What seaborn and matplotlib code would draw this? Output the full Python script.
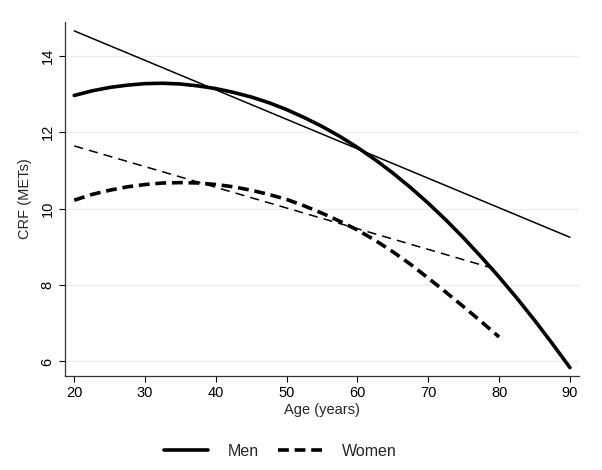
import matplotlib
matplotlib.use("Agg")
import matplotlib.pyplot as plt
from matplotlib.lines import Line2D
import seaborn as sns

# Data (fitted curves and linear fits)
men_age = [20, 22.5, 25, 27.5, 30, 32.5, 35, 37.5, 40, 42.5, 45, 47.5, 50,
           52.5, 55, 57.5, 60, 62.5, 65, 67.5, 70, 72.5, 75, 77.5, 80,
           82.5, 85, 87.5, 90]
men_fit = [12.96, 13.08, 13.17, 13.23, 13.27, 13.28, 13.26, 13.21, 13.14,
           13.04, 12.92, 12.77, 12.59, 12.38, 12.15, 11.89, 11.60, 11.28,
           10.93, 10.55, 10.14, 9.70, 9.23, 8.73, 8.21, 7.66, 7.08, 6.47, 5.84]
men_lin_age = [20, 90]
men_lin = [14.65, 9.25]

women_age = [20, 22.5, 25, 27.5, 30, 32.5, 35, 37.5, 40, 42.5, 45, 47.5, 50,
             52.5, 55, 57.5, 60, 62.5, 65, 67.5, 70, 72.5, 75, 77.5, 80]
women_fit = [10.22, 10.37, 10.48, 10.57, 10.63, 10.67, 10.68, 10.67, 10.63,
             10.57, 10.48, 10.37, 10.24, 10.07, 9.88, 9.67, 9.44, 9.17, 8.87,
             8.54, 8.18, 7.81, 7.43, 7.04, 6.64]
women_lin_age = [20, 80]
women_lin = [11.64, 8.39]

x_ticks = [20, 30, 40, 50, 60, 70, 80, 90]
y_ticks = [6, 8, 10, 12, 14]

sns.set_style("white")
plt.rcParams['font.family'] = ['Liberation Sans', 'DejaVu Sans']

fig = plt.figure(figsize=(6.02, 4.70), dpi=100)
ax = fig.add_axes([0.108, 0.2, 0.854, 0.753])

for y in y_ticks:
    ax.axhline(y, color="#ececec", lw=0.8, zorder=0)

sns.lineplot(x=men_lin_age, y=men_lin, ax=ax, color="black", lw=1.1)
sns.lineplot(x=men_age, y=men_fit, ax=ax, color="black", lw=2.6)
sns.lineplot(x=women_lin_age, y=women_lin, ax=ax, color="black", lw=1.1,
             linestyle=(0, (6, 4)))
sns.lineplot(x=women_age, y=women_fit, ax=ax, color="black", lw=2.6,
             linestyle=(0, (3, 1.6)))

ax.set_xlim(18.7, 91.3)
ax.set_ylim(5.62, 14.88)
ax.set_xticks(x_ticks)
ax.set_yticks(y_ticks)
ax.set_yticklabels([str(v) for v in y_ticks], rotation=90, va="center")
ax.tick_params(axis="both", direction="out", length=4, width=0.8,
               labelsize=10.5, colors="black", bottom=True, left=True)
ax.set_xlabel("Age (years)", fontsize=10.5, labelpad=2)
ax.set_ylabel("CRF (METs)", fontsize=10.5, labelpad=6)

sns.despine(ax=ax)
for side in ["left", "bottom"]:
    ax.spines[side].set_color("#333333")
    ax.spines[side].set_linewidth(0.9)

handles = [Line2D([], [], color="black", lw=2.6),
           Line2D([], [], color="black", lw=2.6, linestyle=(0, (3, 1.6)))]
fig.legend(handles, ["Men", "Women"], loc="center", bbox_to_anchor=(0.465, 0.04),
           ncol=2, frameon=False, fontsize=11.5, handlelength=2.8,
           columnspacing=1.2, handletextpad=1.2)

fig.savefig("out.png", dpi=100)
